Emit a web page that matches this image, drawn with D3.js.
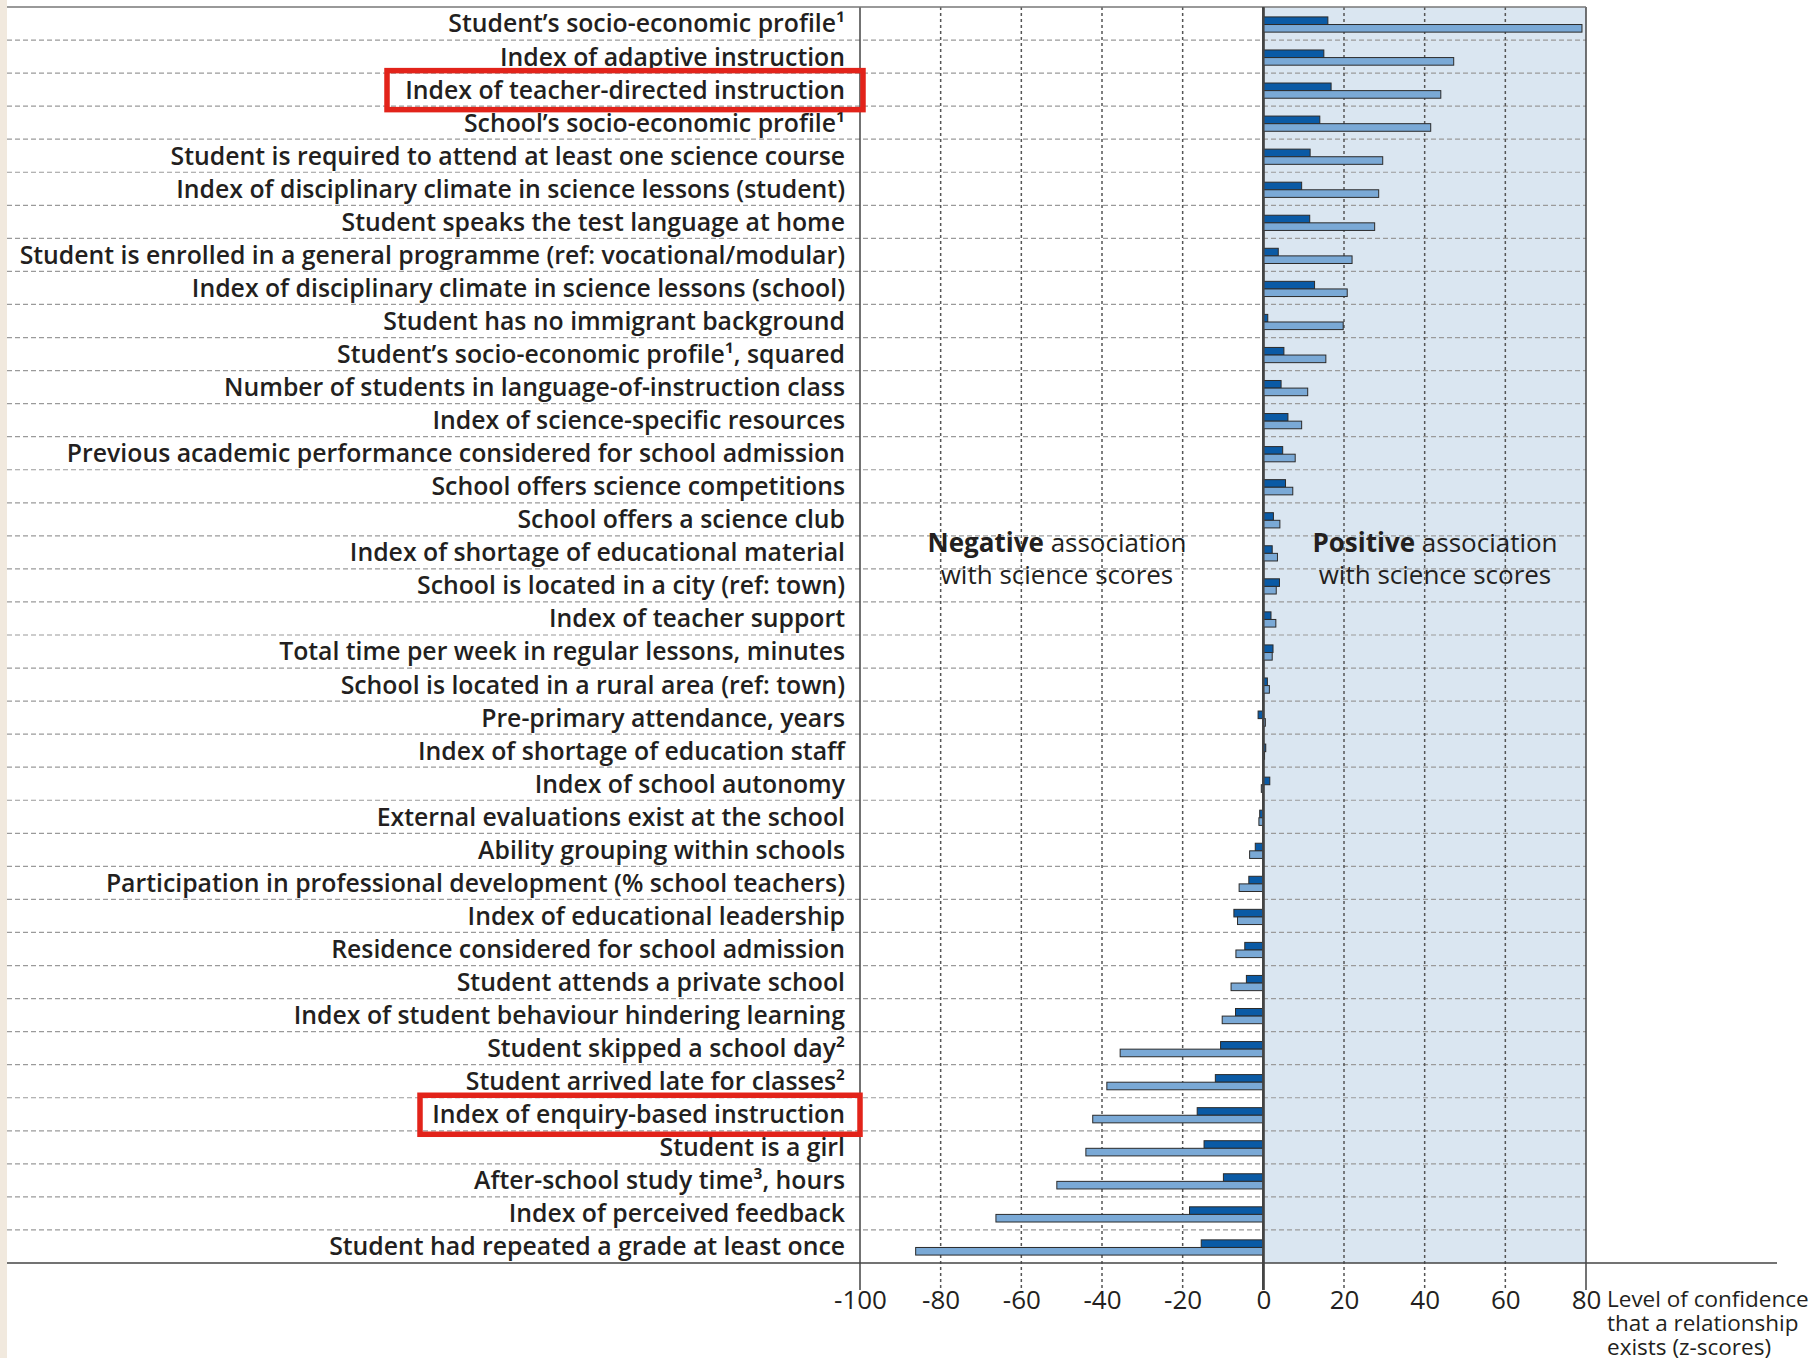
<!DOCTYPE html>
<html>
<head>
<meta charset="utf-8">
<script src="https://cdn.jsdelivr.net/npm/d3@7"></script>
<style>
  body { margin: 0; background: #fff; }
  svg { display: block; font-family: "Open Sans", "Noto Sans", sans-serif; }
</style>
</head>
<body>
<svg id="chart" width="1817" height="1358"></svg>
<script>
// 变量名称（从上到下）
var labels = [
    "Student’s socio-economic profile¹",
    "Index of adaptive instruction",
    "Index of teacher-directed instruction",
    "School’s socio-economic profile¹",
    "Student is required to attend at least one science course",
    "Index of disciplinary climate in science lessons (student)",
    "Student speaks the test language at home",
    "Student is enrolled in a general programme (ref: vocational/modular)",
    "Index of disciplinary climate in science lessons (school)",
    "Student has no immigrant background",
    "Student’s socio-economic profile¹, squared",
    "Number of students in language-of-instruction class",
    "Index of science-specific resources",
    "Previous academic performance considered for school admission",
    "School offers science competitions",
    "School offers a science club",
    "Index of shortage of educational material",
    "School is located in a city (ref: town)",
    "Index of teacher support",
    "Total time per week in regular lessons, minutes",
    "School is located in a rural area (ref: town)",
    "Pre-primary attendance, years",
    "Index of shortage of education staff",
    "Index of school autonomy",
    "External evaluations exist at the school",
    "Ability grouping within schools",
    "Participation in professional development (% school teachers)",
    "Index of educational leadership",
    "Residence considered for school admission",
    "Student attends a private school",
    "Index of student behaviour hindering learning",
    "Student skipped a school day²",
    "Student arrived late for classes²",
    "Index of enquiry-based instruction",
    "Student is a girl",
    "After-school study time³, hours",
    "Index of perceived feedback",
    "Student had repeated a grade at least once"
];
// 深蓝色柱
var darkValues = [16.0, 15.0, 16.8, 14.0, 11.6, 9.5, 11.5, 3.7, 12.7, 1.1,
    5.1, 4.4, 6.1, 4.8, 5.5, 2.5, 2.2, 4.0, 1.9, 2.4,
    1.0, -1.3, 0.6, 1.6, -0.9, -2.0, -3.6, -7.3, -4.6, -4.2,
    -6.9, -10.6, -11.9, -16.4, -14.7, -9.9, -18.3, -15.4];
// 浅蓝色柱
var lightValues = [79.0, 47.2, 44.0, 41.5, 29.6, 28.6, 27.6, 22.0, 20.8, 19.8,
    15.5, 11.0, 9.5, 7.9, 7.3, 4.1, 3.5, 3.2, 3.1, 2.2,
    1.5, 0.5, 0.3, -0.5, -1.1, -3.4, -6.0, -6.4, -6.8, -8.0,
    -10.2, -35.5, -38.8, -42.3, -44.0, -51.2, -66.3, -86.2];
var tickValues = [-100, -80, -60, -40, -20, 0, 20, 40, 60, 80];
var boxed = ["Index of teacher-directed instruction", "Index of enquiry-based instruction"];

var svg = d3.select("#chart");
var plotTop = 7, plotBottom = 1263, plotLeft = 860, plotRight = 1586;

var x = d3.scaleLinear().domain([-100, 80]).range([plotLeft, plotRight]);
var y = d3.scaleBand().domain(labels).range([plotTop, plotBottom]);
var ySub = d3.scaleBand().domain(["dark", "light"])
    .range([y.bandwidth() * 0.3, y.bandwidth() * 0.76]);

// 左边米色条
svg.append("rect").attr("x", 0).attr("y", 0).attr("width", 7).attr("height", 1358).attr("fill", "#f1e9de");

// 正值区域底色
svg.append("rect")
    .attr("x", x(0)).attr("y", plotTop)
    .attr("width", x(80) - x(0)).attr("height", plotBottom - plotTop)
    .attr("fill", "#dae6f1");

// 行分隔虚线
var seps = labels.slice(1);
svg.append("g").selectAll("line").data(seps).enter().append("line")
    .attr("x1", 7).attr("x2", x(80))
    .attr("y1", function (d) { return y(d); })
    .attr("y2", function (d) { return y(d); })
    .attr("stroke", "#9a9a9a").attr("stroke-width", 1.2)
    .attr("stroke-dasharray", "5,3");

// 纵向网格线
svg.append("g").selectAll("line").data(tickValues).enter().append("line")
    .attr("x1", function (d) { return x(d); })
    .attr("x2", function (d) { return x(d); })
    .attr("y1", plotTop).attr("y2", 1290)
    .attr("stroke", function (d) { return (d === -100 || d === 0 || d === 80) ? "#444" : "#555"; })
    .attr("stroke-width", function (d) { return d === 0 ? 2.5 : 1.5; })
    .attr("stroke-dasharray", function (d) { return (d === -100 || d === 0 || d === 80) ? null : "3,3"; });

// 顶部边线
svg.append("line").attr("x1", 7).attr("x2", x(80)).attr("y1", plotTop).attr("y2", plotTop)
    .attr("stroke", "#777").attr("stroke-width", 1.5);

// 柱子
var rows = labels.map(function (l, i) {
    return {label: l, dark: darkValues[i], light: lightValues[i]};
});
var g = svg.append("g");
["dark", "light"].forEach(function (key) {
    g.selectAll("rect." + key).data(rows).enter().append("rect")
        .attr("class", key)
        .attr("x", function (d) { return x(Math.min(0, d[key])); })
        .attr("y", function (d) { return y(d.label) + ySub(key); })
        .attr("width", function (d) { return Math.abs(x(d[key]) - x(0)); })
        .attr("height", ySub.bandwidth())
        .attr("fill", key === "dark" ? "#0a5aa5" : "#7aa9d6")
        .attr("stroke", "#2b2b2b").attr("stroke-width", 1);
});

// 零线重画在柱子上面
svg.append("line").attr("x1", x(0)).attr("x2", x(0)).attr("y1", plotTop).attr("y2", 1290)
    .attr("stroke", "#444").attr("stroke-width", 2.5);

// 底部轴线
svg.append("line").attr("x1", 7).attr("x2", 1777).attr("y1", plotBottom).attr("y2", plotBottom)
    .attr("stroke", "#444").attr("stroke-width", 1.5);

// 刻度文字
var axis = d3.axisBottom(x).tickValues(tickValues).tickSize(0).tickPadding(0)
    .tickFormat(function (d) { return String(d); });
var ag = svg.append("g").attr("transform", "translate(0," + 1300 + ")").call(axis);
ag.select(".domain").remove();
ag.selectAll("text").attr("font-size", 26).attr("fill", "#231f20")
    .attr("font-family", "'Open Sans', sans-serif").attr("dy", "0.35em");

// 行标签
svg.append("g").selectAll("text").data(labels).enter().append("text")
    .attr("x", 845)
    .attr("y", function (d) { return y(d) + y.bandwidth() / 2; })
    .attr("dy", "0.36em")
    .attr("text-anchor", "end")
    .attr("font-size", 24.8)
    .attr("font-weight", 600)
    .attr("fill", "#231f20")
    .text(function (d) { return d; });

// 红框
boxed.forEach(function (b) {
    var cy = y(b) + y.bandwidth() / 2;
    svg.append("rect")
        .attr("x", b === boxed[0] ? 387 : 420)
        .attr("y", cy - 19).attr("width", b === boxed[0] ? 476 : 440).attr("height", 39)
        .attr("fill", "none").attr("stroke", "#e2231a").attr("stroke-width", 5.5);
});

// 注释文字
function note(cx, bold) {
    var t = svg.append("text").attr("x", cx).attr("y", 552).attr("text-anchor", "middle")
        .attr("font-size", 26).attr("fill", "#231f20");
    t.append("tspan").attr("font-weight", 700).text(bold);
    t.append("tspan").text(" association");
    svg.append("text").attr("x", cx).attr("y", 584).attr("text-anchor", "middle")
        .attr("font-size", 26).attr("fill", "#231f20").text("with science scores");
}
note(1057, "Negative");
note(1435, "Positive");

// 坐标轴标题
var titleLines = ["Level of confidence", "that a relationship", "exists (z-scores)"];
svg.append("g").selectAll("text").data(titleLines).enter().append("text")
    .attr("x", 1607)
    .attr("y", function (d, i) { return 1307 + i * 24; })
    .attr("font-size", 22.5).attr("fill", "#231f20")
    .text(function (d) { return d; });
</script>
</body>
</html>
